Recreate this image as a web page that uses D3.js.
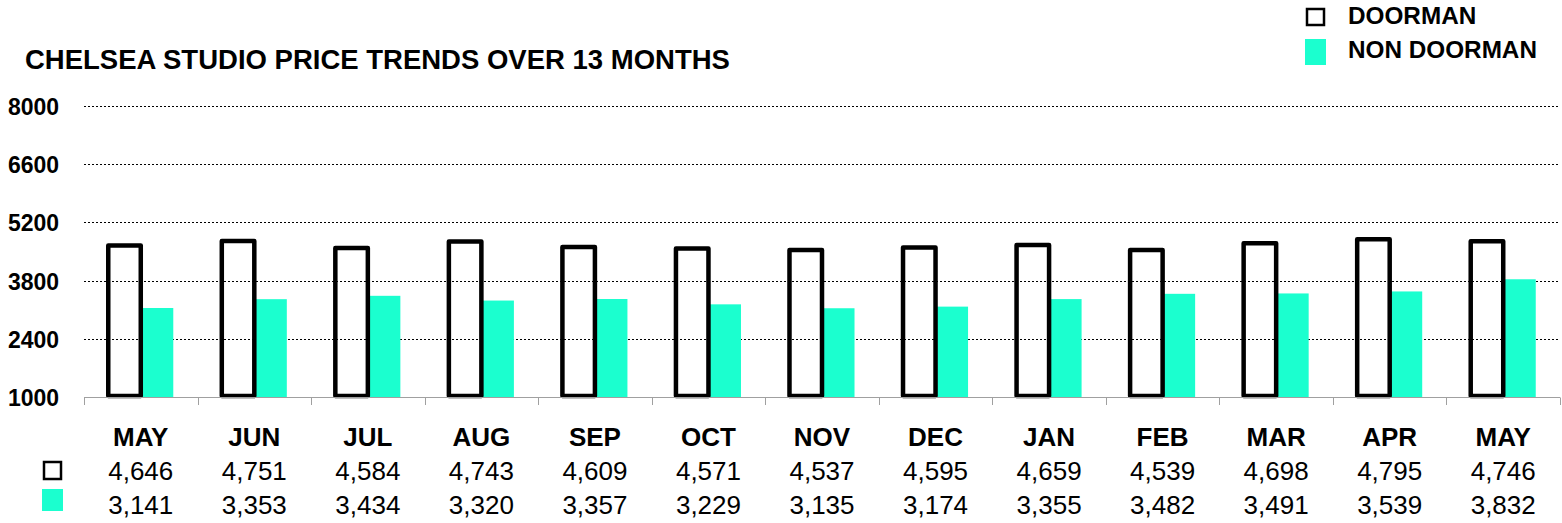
<!DOCTYPE html>
<html>
<head>
<meta charset="utf-8">
<script src="https://cdn.jsdelivr.net/npm/d3@7"></script>
<style>
  html, body { margin: 0; padding: 0; background: #fff; }
  svg { display: block; }
  text { font-family: "Liberation Sans", Arial, sans-serif; fill: #000; }
</style>
</head>
<body>
<svg id="chart" width="1562" height="523"></svg>
<script>
const months = ["MAY","JUN","JUL","AUG","SEP","OCT","NOV","DEC","JAN","FEB","MAR","APR","MAY"];
const doorman = [4646, 4751, 4584, 4743, 4609, 4571, 4537, 4595, 4659, 4539, 4698, 4795, 4746];
const nonDoorman = [3141, 3353, 3434, 3320, 3357, 3229, 3135, 3174, 3355, 3482, 3491, 3539, 3832];
const yTicks = [1000, 2400, 3800, 5200, 6600, 8000];
const seriesNames = ["DOORMAN", "NON DOORMAN"];
const title = "CHELSEA STUDIO PRICE TRENDS OVER 13 MONTHS";

const teal = "#1bffcf";
const svg = d3.select("#chart");

const keys = months.map((m, i) => i);
const x = d3.scaleBand().domain(keys).range([84, 1560]).padding(0);
const xs = d3.scaleBand().domain(seriesNames).range([0, x.bandwidth()]).paddingInner(0).paddingOuter(0.746);
const y = d3.scaleLinear().domain([1000, 8000]).range([397, 106]);

// title
svg.append("text").attr("x", 25).attr("y", 69)
  .attr("font-size", 27.5).attr("font-weight", "bold").text(title);

// gridlines
svg.append("g").selectAll("line").data(yTicks.slice(1)).join("line")
  .attr("x1", 84).attr("x2", 1560)
  .attr("y1", d => Math.round(y(d)) + 0.5).attr("y2", d => Math.round(y(d)) + 0.5)
  .attr("stroke", "#000").attr("stroke-width", 1).attr("stroke-dasharray", "2,2");

// y labels
svg.append("g").selectAll("text").data(yTicks).join("text")
  .attr("x", 8).attr("y", d => y(d) + 9)
  .attr("font-size", 23).attr("font-weight", "bold").text(d => d);

// non doorman bars
svg.append("g").selectAll("rect").data(nonDoorman).join("rect")
  .attr("x", (d, i) => x(i) + xs("NON DOORMAN"))
  .attr("width", xs.bandwidth())
  .attr("y", d => y(d))
  .attr("height", d => y(1000) - y(d))
  .attr("fill", teal);

// doorman bars (outline)
svg.append("g").selectAll("rect").data(doorman).join("rect")
  .attr("x", (d, i) => x(i) + xs("DOORMAN"))
  .attr("width", xs.bandwidth())
  .attr("y", d => y(d))
  .attr("height", d => y(1000) - y(d) - 1)
  .attr("fill", "none").attr("stroke", "#000").attr("stroke-width", 4.5)
  .attr("stroke-linejoin", "round");

// x axis line and ticks
const axisY = 397.5;
svg.append("line").attr("x1", 84).attr("x2", 1560).attr("y1", axisY).attr("y2", axisY)
  .attr("stroke", "#a0a0a0").attr("stroke-width", 1);
const bounds = keys.map(k => x(k)).concat([x.range()[1]]);
svg.append("g").selectAll("line").data(bounds).join("line")
  .attr("x1", d => Math.round(d) + 0.5).attr("x2", d => Math.round(d) + 0.5)
  .attr("y1", axisY).attr("y2", 405)
  .attr("stroke", "#a0a0a0").attr("stroke-width", 1);

// data table
const cx = i => x(i) + x.bandwidth() / 2;
svg.append("g").selectAll("text").data(months).join("text")
  .attr("x", (d, i) => cx(i)).attr("y", 446).attr("text-anchor", "middle")
  .attr("font-size", 26).attr("font-weight", "bold").text(d => d);
const fmt = d3.format(",");
svg.append("g").selectAll("text").data(doorman).join("text")
  .attr("x", (d, i) => cx(i)).attr("y", 480).attr("text-anchor", "middle")
  .attr("font-size", 26).text(d => fmt(d));
svg.append("g").selectAll("text").data(nonDoorman).join("text")
  .attr("x", (d, i) => cx(i)).attr("y", 514).attr("text-anchor", "middle")
  .attr("font-size", 26).text(d => fmt(d));

// table markers
svg.append("rect").attr("x", 44).attr("y", 462).attr("width", 17).attr("height", 17)
  .attr("fill", "#fff").attr("stroke", "#000").attr("stroke-width", 2.5);
svg.append("rect").attr("x", 42).attr("y", 489).attr("width", 21).attr("height", 22)
  .attr("fill", teal);

// legend
svg.append("rect").attr("x", 1307).attr("y", 9).attr("width", 17).attr("height", 16)
  .attr("fill", "#fff").attr("stroke", "#000").attr("stroke-width", 2.5);
svg.append("rect").attr("x", 1305).attr("y", 39).attr("width", 21).attr("height", 26)
  .attr("fill", teal);
svg.append("text").attr("x", 1348).attr("y", 24).attr("font-size", 24.3).attr("font-weight", "bold").text(seriesNames[0]);
svg.append("text").attr("x", 1348).attr("y", 58).attr("font-size", 24.3).attr("font-weight", "bold").text(seriesNames[1]);
</script>
</body>
</html>
